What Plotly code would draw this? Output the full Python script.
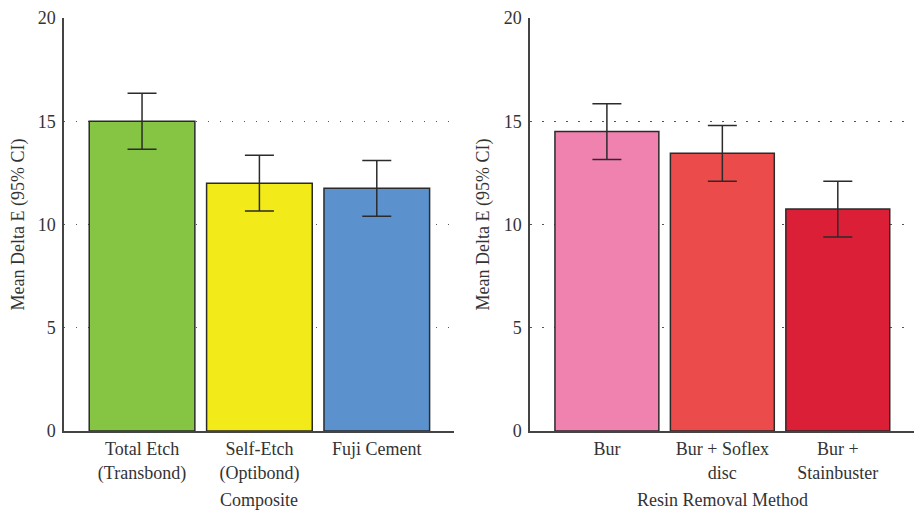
import plotly.graph_objects as go

# Left panel: composite type
composite_labels = ["Total Etch<br>(Transbond)", "Self-Etch<br>(Optibond)", "Fuji Cement"]
composite_means = [15.0, 12.0, 11.75]
composite_ci = [1.35, 1.35, 1.35]
composite_colors = ["#86C443", "#F2EA19", "#5B92CD"]

# Right panel: resin removal method
removal_labels = ["Bur", "Bur + Soflex<br>disc", "Bur +<br>Stainbuster"]
removal_means = [14.5, 13.45, 10.75]
removal_ci = [1.35, 1.35, 1.35]
removal_colors = ["#F082B0", "#EB4B4B", "#DA1F37"]

y_ticks = [0, 5, 10, 15, 20]

FONT = "Liberation Serif"
INK = "#2b2b2b"
TEXT = "#333"
FS = 18

fig = go.Figure()


def add_panel(labels, means, ci, colors, xaxis, yaxis):
    fig.add_trace(go.Bar(
        x=list(range(len(labels))),
        y=means,
        marker=dict(color=colors, line=dict(color=INK, width=1.5)),
        error_y=dict(type="data", array=ci, visible=True,
                     color=INK, thickness=1.5, width=14.5),
        xaxis=xaxis, yaxis=yaxis,
        showlegend=False,
    ))


add_panel(composite_labels, composite_means, composite_ci, composite_colors, "x", "y")
add_panel(removal_labels, removal_means, removal_ci, removal_colors, "x2", "y2")

xaxis_common = dict(
    range=[-0.665, 2.66], tickmode="array", tickvals=[0, 1, 2],
    showline=True, linecolor="#444", linewidth=1.5, showgrid=False,
    ticks="outside", ticklen=1, tickcolor="rgba(0,0,0,0)",
    tickfont=dict(family=FONT, size=FS, color=TEXT), zeroline=False,
)
yaxis_common = dict(
    range=[0, 20], tickvals=y_ticks,
    showline=True, linecolor="#444", linewidth=1.5,
    showgrid=True, gridcolor="#555", gridwidth=1, griddash="1.5px,10.5px",
    tickfont=dict(family=FONT, size=FS, color=TEXT), zeroline=False,
    ticks="outside", ticklen=3, tickcolor="rgba(0,0,0,0)",
)

fig.update_layout(
    width=914, height=511,
    margin=dict(l=0, r=0, t=18, b=80),
    paper_bgcolor="white", plot_bgcolor="white",
    bargap=0.1,
    xaxis=dict(domain=[0.070, 0.497], ticktext=composite_labels, anchor="y", **xaxis_common),
    yaxis=dict(domain=[0, 1], anchor="x", **yaxis_common),
    xaxis2=dict(domain=[0.580, 1.0], ticktext=removal_labels, anchor="y2", **xaxis_common),
    yaxis2=dict(domain=[0, 1], anchor="x2", **yaxis_common),
    annotations=[
        dict(text="Mean Delta E (95% CI)", textangle=-90, x=18 / 914, y=0.5,
             xanchor="center", yanchor="middle",
             xref="paper", yref="paper", showarrow=False,
             font=dict(family=FONT, size=FS, color=TEXT)),
        dict(text="Mean Delta E (95% CI)", textangle=-90, x=483 / 914, y=0.5,
             xanchor="center", yanchor="middle",
             xref="paper", yref="paper", showarrow=False,
             font=dict(family=FONT, size=FS, color=TEXT)),
        dict(text="Composite", x=1, y=-69 / 413, yanchor="middle", xref="x", yref="paper",
             showarrow=False, font=dict(family=FONT, size=FS, color=TEXT)),
        dict(text="Resin Removal Method", x=1, y=-69 / 413, yanchor="middle", xref="x2", yref="paper",
             showarrow=False, font=dict(family=FONT, size=FS, color=TEXT)),
    ],
)

fig.write_html("out.html")
